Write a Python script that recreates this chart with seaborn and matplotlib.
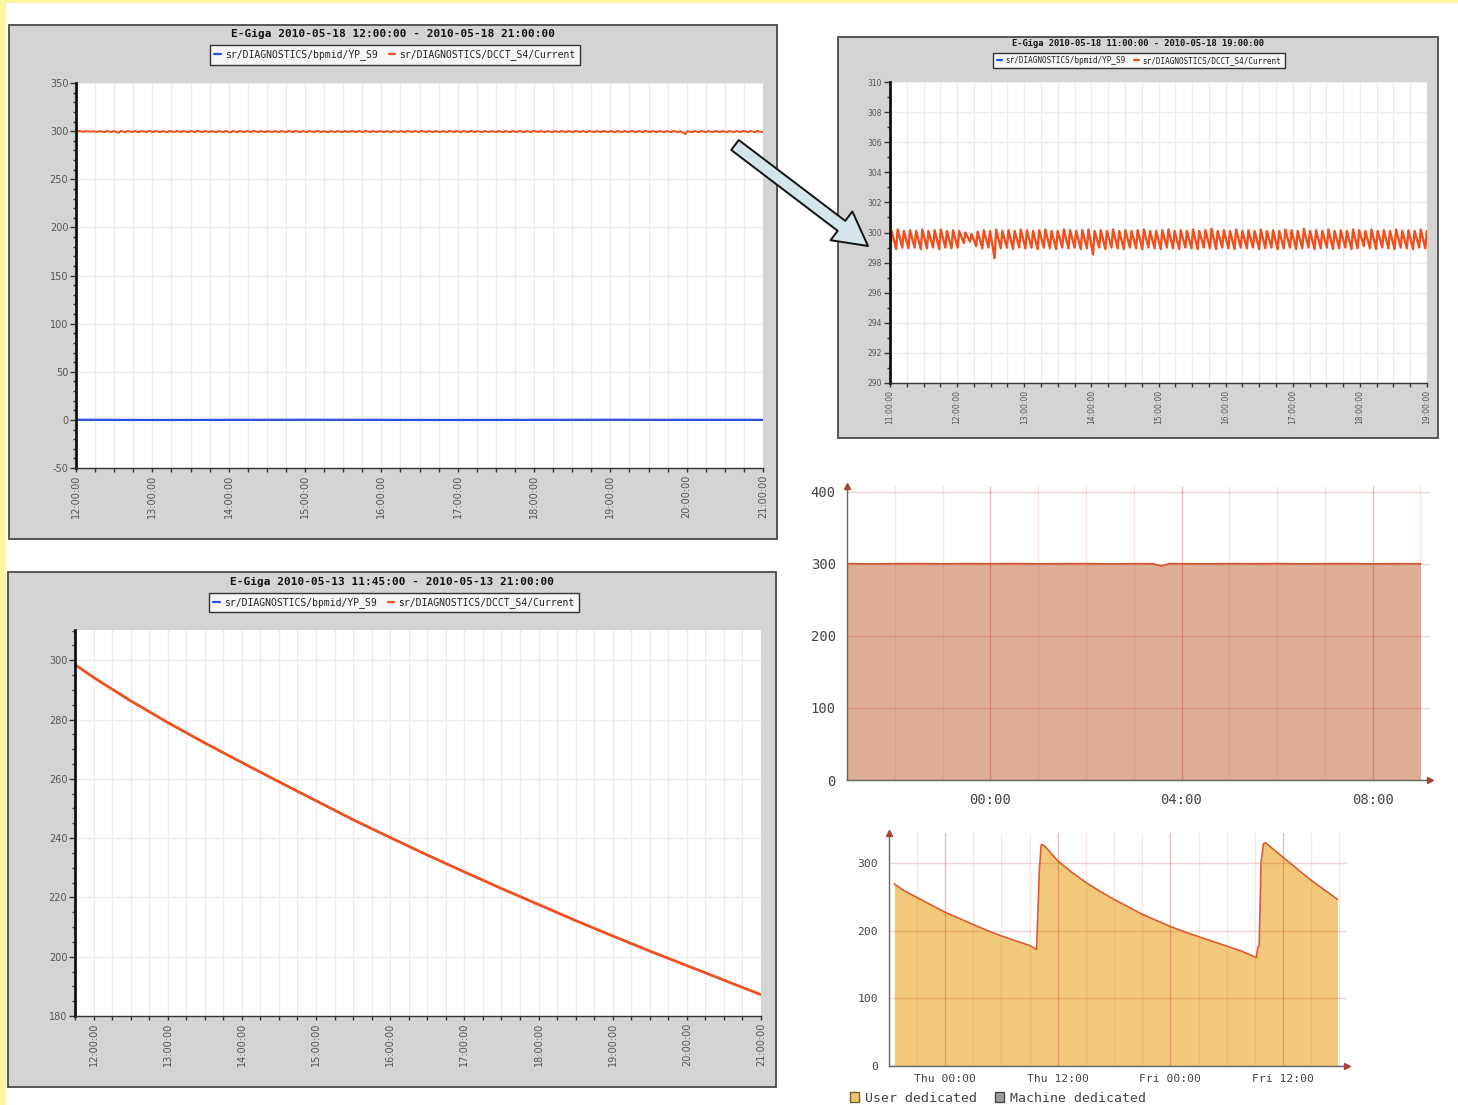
import numpy as np
import pandas as pd
import matplotlib
matplotlib.use("Agg")
import matplotlib.pyplot as plt
import matplotlib.dates as mdates
from matplotlib.ticker import MultipleLocator
from matplotlib.patches import Rectangle, FancyArrowPatch, Patch
from matplotlib.lines import Line2D
import seaborn as sns

W, H = 1458, 1105

# ---------------------------------------------------------------- data
# DCCT beam current on 2010-05-18, one trough/peak pair per top-up cycle from 11:00
CYCLE_MIN = 5.5
dcct_peaks = [
    300.10, 300.20, 300.10, 300.15, 300.10, 300.20, 300.10, 300.15, 300.20, 300.10,
    300.15, 300.10, 300.00, 299.90, 300.05, 300.15, 300.10, 300.20, 300.10, 300.15,
    300.10, 300.20, 300.15, 300.10, 300.15, 300.20, 300.10, 300.10, 300.20, 300.15,
    300.10, 300.15, 300.20, 300.10, 300.15, 300.10, 300.20, 300.10, 300.15, 300.10,
    300.15, 300.20, 300.10, 300.10, 300.15, 300.20, 300.10, 300.15, 300.10, 300.20,
    300.10, 300.15, 300.25, 300.10, 300.15, 300.10, 300.20, 300.10, 300.15, 300.10,
    300.20, 300.10, 300.15, 300.10, 300.20, 300.15, 300.10, 300.25, 300.10, 300.15,
    300.10, 300.20, 300.10, 300.15, 300.10, 300.20, 300.15, 300.10, 300.20, 300.10,
    300.15, 300.10, 300.20, 300.10, 300.15, 300.10, 300.20, 300.10, 300.15, 300.10,
    300.20, 300.10, 300.15, 300.10, 300.20, 300.10, 300.15, 300.10, 299.90, 300.10,
    300.15, 300.10, 300.20, 300.10, 300.15, 300.10, 300.20, 300.10, 300.15, 300.10,
]
dcct_troughs = [
    299.00, 298.90, 299.00, 298.95, 299.00, 298.90, 298.95, 299.00, 298.90, 299.00,
    298.95, 299.00, 299.30, 299.40, 299.10, 298.95, 299.00, 298.30, 298.95, 299.00,
    298.90, 299.00, 298.95, 299.00, 298.90, 299.00, 298.95, 298.90, 299.00, 298.95,
    299.00, 298.90, 298.95, 298.55, 299.00, 298.90, 299.00, 298.95, 298.90, 299.00,
    298.95, 298.90, 299.00, 298.95, 298.90, 299.00, 298.95, 298.90, 299.00, 298.95,
    298.90, 299.00, 298.95, 298.90, 299.00, 298.95, 298.90, 299.00, 298.95, 299.00,
    298.90, 298.95, 299.00, 298.90, 298.95, 299.00, 298.90, 298.95, 299.00, 298.90,
    298.95, 299.00, 298.90, 298.95, 299.00, 298.90, 298.95, 299.10, 298.95, 298.90,
    299.00, 298.95, 298.90, 299.00, 298.95, 298.90, 299.00, 298.95, 298.90, 299.00,
    298.95, 298.90, 299.00, 298.95, 298.90, 299.00, 298.95, 298.90, 296.90, 299.00,
    298.95, 298.90, 299.00, 298.95, 298.90, 299.00, 298.95, 298.90, 299.00, 298.95,
]

# vertical beam position YP_S9 on the same day
yp_hours = [11, 12, 13, 14, 15, 16, 17, 18, 19, 20, 21]
yp_values = [0.0, 0.1, -0.1, 0.0, 0.1, 0.0, -0.1, 0.0, 0.1, 0.0, 0.0]

# current decay on 2010-05-13
decay_times = ["11:45", "12:00", "12:30", "13:00", "13:30", "14:00", "14:30",
               "15:00", "15:30", "16:00", "16:30", "17:00", "17:30", "18:00",
               "18:30", "19:00", "19:30", "20:00", "20:30", "21:00"]
decay_values = [298.5, 294.2, 286.3, 279.0, 272.1, 265.5, 259.0,
                252.6, 246.2, 240.2, 234.3, 228.6, 223.0, 217.6,
                212.2, 207.0, 201.9, 197.0, 192.1, 187.2]

# overnight current, hours after 21:00
night_hours = [0.0, 0.5, 1.0, 1.5, 2.0, 2.5, 3.0, 3.5, 4.0, 4.5, 5.0, 5.5, 6.0,
               6.4, 6.58, 6.75, 7.0, 7.5, 8.0, 8.5, 9.0, 9.5, 10.0, 10.5, 11.0,
               11.5, 12.0]
night_values = [300.2, 299.8, 300.1, 300.3, 299.9, 300.2, 300.0, 300.3, 299.9,
                300.1, 300.2, 299.8, 300.1, 300.0, 297.0, 300.2, 300.1, 299.9,
                300.2, 300.0, 300.3, 299.9, 300.1, 300.2, 299.9, 300.1, 300.0]

# two-day user-dedicated current, hours from Thursday 00:00
week_hours = [-5.4, -5.2, -4.5, -3.0, -1.5, 0.0, 1.5, 3.0, 4.5, 6.0, 7.5, 9.0,
              9.75, 10.05, 10.25, 10.6, 12.0, 13.5, 15.0, 16.5, 18.0, 19.5, 21.0,
              22.5, 24.0, 25.5, 27.0, 28.5, 30.0, 31.5, 33.15, 33.3, 33.45, 33.65,
              33.9, 34.1, 36.0, 37.5, 39.0, 40.5, 41.8]
week_values = [269, 267, 260, 249, 238, 227, 218, 209, 200, 192, 185, 178,
               172, 290, 327, 325, 303, 286, 271, 258, 246, 235, 224,
               215, 206, 198, 191, 184, 177, 170, 160, 175, 178, 300,
               328, 330, 308, 291, 274, 259, 246]

SERIES_LABELS = ["sr/DIAGNOSTICS/bpmid/YP_S9", "sr/DIAGNOSTICS/DCCT_S4/Current"]

# ---------------------------------------------------------------- tables
day0 = pd.Timestamp("2010-05-18 11:00")
cycle_start = day0 + pd.to_timedelta(np.arange(len(dcct_peaks)) * CYCLE_MIN, unit="min")
peak_time = cycle_start + pd.to_timedelta(0.25 * CYCLE_MIN, unit="min")
dcct = pd.DataFrame({
    "time": np.ravel(np.column_stack([cycle_start.values, peak_time.values])),
    "current": np.ravel(np.column_stack([dcct_troughs, dcct_peaks])),
})
yp = pd.DataFrame({
    "time": pd.Timestamp("2010-05-18") + pd.to_timedelta(yp_hours, unit="h"),
    "pos": yp_values,
})
decay = pd.DataFrame({
    "time": pd.to_datetime(["2010-05-13 " + t for t in decay_times]),
    "current": decay_values,
})
night0 = pd.Timestamp("2010-05-17 21:00")
night = pd.DataFrame({
    "time": night0 + pd.to_timedelta(night_hours, unit="h"),
    "current": night_values,
})
thu0 = pd.Timestamp("2010-05-13 00:00")
week = pd.DataFrame({
    "time": thu0 + pd.to_timedelta(week_hours, unit="h"),
    "current": week_values,
})

# ---------------------------------------------------------------- style
sns.set_style("white")
plt.rcParams["font.family"] = ["DejaVu Sans"]
plt.rcParams["axes.unicode_minus"] = False

ORANGE = "#f0501e"
BLUE = "#2a4fe0"
MONO = "DejaVu Sans Mono"

fig = plt.figure(figsize=(W / 100, H / 100), dpi=100)
fig.patch.set_facecolor("white")


def fx(x):
    return x / W


def fy(y):
    return 1 - y / H


def frac_rect(x0, y0, x1, y1):
    return [x0 / W, 1 - y1 / H, (x1 - x0) / W, (y1 - y0) / H]


# page edge
fig.add_artist(Rectangle((0, 0), 6 / W, 1, transform=fig.transFigure,
                         fc="#fff59d", ec="none", zorder=-5))
fig.add_artist(Rectangle((0, fy(3)), 1, 3 / H, transform=fig.transFigure,
                         fc="#fff59d", ec="none", zorder=-5))


def archive_panel(box, area):
    """Grey archive-viewer frame with a white plotting area inside it."""
    x0, y0, x1, y1 = box
    fig.add_artist(Rectangle((fx(x0), fy(y1)), (x1 - x0) / W, (y1 - y0) / H,
                             transform=fig.transFigure, fc="#d4d4d4",
                             ec="#4a4a4a", lw=1.3, zorder=-2))
    ax = fig.add_axes(frac_rect(*area))
    ax.set_facecolor("white")
    return ax


def style_archive(ax, title, box, title_y, legend_xy, fs_title, fs_leg, fs_tick,
                  ylim, ymaj, ymin, xlim):
    ax.set_xlim(*xlim)
    ax.set_ylim(*ylim)
    ax.set_xlabel("")
    ax.set_ylabel("")
    ax.xaxis.set_major_locator(mdates.HourLocator())
    ax.xaxis.set_minor_locator(mdates.MinuteLocator(byminute=[15, 30, 45]))
    ax.xaxis.set_major_formatter(mdates.DateFormatter("%H:%M:%S"))
    ax.yaxis.set_major_locator(MultipleLocator(ymaj))
    ax.yaxis.set_minor_locator(MultipleLocator(ymin))
    ax.grid(True, which="both", axis="x", color="#ececec", lw=1, alpha=1)
    ax.grid(True, which="major", axis="y", color="#efefef", lw=1, alpha=1)
    ax.set_axisbelow(True)
    for s in ("top", "right"):
        ax.spines[s].set_visible(False)
    ax.spines["left"].set_color("#111111")
    ax.spines["left"].set_linewidth(2)
    ax.spines["bottom"].set_color("#333333")
    ax.spines["bottom"].set_linewidth(1)
    ax.tick_params(axis="x", which="both", rotation=90, labelsize=fs_tick,
                   labelcolor="#555555", length=3, width=1, color="#333333",
                   direction="out", pad=2, bottom=True)
    ax.tick_params(axis="y", which="major", labelsize=fs_tick, labelcolor="#555555",
                   length=4, width=1, color="#333333", direction="out", pad=1.5,
                   left=True)
    ax.tick_params(axis="y", which="minor", length=2, width=1, color="#333333",
                   direction="out", left=True)
    x0, y0, x1, y1 = box
    fig.text(fx((x0 + x1) / 2), fy(title_y), title, ha="center", va="center",
             family=MONO, weight="bold", fontsize=fs_title, color="#111111")
    handles = [Line2D([], [], color=BLUE, lw=1.6), Line2D([], [], color=ORANGE, lw=1.6)]
    leg = ax.legend(handles, SERIES_LABELS, loc="center",
                    bbox_to_anchor=(fx(legend_xy[0]), fy(legend_xy[1])),
                    bbox_transform=fig.transFigure, ncol=2, frameon=True,
                    fancybox=False, edgecolor="#333333", facecolor="#f6f6f6",
                    framealpha=1, prop={"family": MONO, "size": fs_leg},
                    handlelength=0.7, handletextpad=0.4, columnspacing=1.1,
                    borderpad=0.45)
    leg.get_frame().set_linewidth(1.0)
    for t in leg.get_texts():
        t.set_color("#222222")


# ---------------- top-left: 12:00 - 21:00
box = (9, 25, 777, 539)
ax1 = archive_panel(box, (76, 83, 763, 468))
sns.lineplot(data=yp, x="time", y="pos", color=BLUE, lw=1.6, ax=ax1, estimator=None)
sns.lineplot(data=dcct, x="time", y="current", color=ORANGE, lw=1.4, ax=ax1,
             estimator=None, sort=False)
style_archive(ax1, "E-Giga 2010-05-18 12:00:00 - 2010-05-18 21:00:00", box, 34,
              (395, 55), 8, 7, 7, (-50, 350), 50, 10,
              (pd.Timestamp("2010-05-18 12:00"), pd.Timestamp("2010-05-18 21:00")))

# ---------------- top-right: 11:00 - 19:00 detail
box = (838, 37, 1438, 438)
ax2 = archive_panel(box, (890, 82, 1427, 383))
sns.lineplot(data=yp, x="time", y="pos", color=BLUE, lw=1.4, ax=ax2, estimator=None)
sns.lineplot(data=dcct, x="time", y="current", color=ORANGE, lw=1.7, ax=ax2,
             estimator=None, sort=False)
style_archive(ax2, "E-Giga 2010-05-18 11:00:00 - 2010-05-18 19:00:00", box, 44,
              (1139, 60.5), 6.3, 5.5, 5.5, (290, 310), 2, 1,
              (pd.Timestamp("2010-05-18 11:00"), pd.Timestamp("2010-05-18 19:00")))

# ---------------- bottom-left: 2010-05-13 decay
box = (8, 572, 776, 1087)
ax3 = archive_panel(box, (75, 630, 761, 1016))
sns.lineplot(data=yp.assign(time=yp["time"] - pd.Timedelta(days=5)), x="time", y="pos",
             color=BLUE, lw=1.6, ax=ax3, estimator=None)
sns.lineplot(data=decay, x="time", y="current", color=ORANGE, lw=2.0, ax=ax3,
             estimator=None)
style_archive(ax3, "E-Giga 2010-05-13 11:45:00 - 2010-05-13 21:00:00", box, 582,
              (394, 602.5), 8, 7, 7, (180, 310.2), 20, 5,
              (pd.Timestamp("2010-05-13 11:45"), pd.Timestamp("2010-05-13 21:00")))

# ---------------- arrow from overview to detail
arrow = FancyArrowPatch((735 / 100, (H - 145) / 100), (868 / 100, (H - 246) / 100),
                        transform=fig.dpi_scale_trans,
                        arrowstyle="simple,head_length=2.4,head_width=2.6,tail_width=0.9",
                        mutation_scale=10, fc="#d4e6eb", ec="#111111", lw=1.4,
                        shrinkA=0, shrinkB=0, zorder=20)
fig.add_artist(arrow)


def arrow_axes(ax, axis_col="#666666", head_col="#a4443a"):
    for s in ("top", "right"):
        ax.spines[s].set_visible(False)
    for s in ("left", "bottom"):
        ax.spines[s].set_color(axis_col)
        ax.spines[s].set_linewidth(1.0)
    ax.plot(1, 0, ">", transform=ax.transAxes, clip_on=False, color=head_col, ms=4.5, zorder=5)
    ax.plot(0, 1, "^", transform=ax.transAxes, clip_on=False, color=head_col, ms=4.5, zorder=5)


def pink_grid(ax):
    ax.grid(True, which="minor", axis="x", color="#c84a4a", alpha=0.13, lw=1)
    ax.grid(True, which="major", axis="x", color="#b83a3a", alpha=0.33, lw=1)
    ax.grid(True, which="major", axis="y", color="#c04040", alpha=0.22, lw=1)
    ax.set_axisbelow("line")


# ---------------- middle-right: overnight area
ax4 = fig.add_axes(frac_rect(847, 486, 1430, 780))
ax4.set_facecolor("white")
ax4.fill_between(night["time"], 0, night["current"], color="#dfae97", lw=0, zorder=1)
sns.lineplot(data=night, x="time", y="current", color="#cf5a2e", lw=1.3, ax=ax4,
             estimator=None, zorder=3)
ax4.set_xlim(night0, night0 + pd.Timedelta(hours=12.2))
ax4.set_ylim(0, 408)
ax4.set_xlabel("")
ax4.set_ylabel("")
ax4.xaxis.set_major_locator(mdates.HourLocator(byhour=[0, 4, 8]))
ax4.xaxis.set_minor_locator(mdates.HourLocator(byhour=[h for h in range(24) if h % 4]))
ax4.xaxis.set_major_formatter(mdates.DateFormatter("%H:%M"))
ax4.yaxis.set_major_locator(MultipleLocator(100))
pink_grid(ax4)
arrow_axes(ax4)
ax4.tick_params(axis="both", which="both", length=0, labelsize=10, labelcolor="#444444")
ax4.tick_params(axis="x", pad=9)
ax4.tick_params(axis="y", pad=8)
for lab in ax4.get_xticklabels() + ax4.get_yticklabels():
    lab.set_family(MONO)

# ---------------- bottom-right: user dedicated two days
ax5 = fig.add_axes(frac_rect(889, 833, 1347, 1066))
ax5.set_facecolor("white")
ax5.fill_between(week["time"], 0, week["current"], color="#f2c97a", lw=0, zorder=1)
sns.lineplot(data=week, x="time", y="current", color="#dc5a34", lw=1.2, ax=ax5,
             estimator=None, zorder=3)
ax5.set_xlim(thu0 - pd.Timedelta(hours=5.96), thu0 + pd.Timedelta(hours=42.8))
ax5.set_ylim(0, 344)
ax5.set_xlabel("")
ax5.set_ylabel("")
ax5.xaxis.set_major_locator(mdates.HourLocator(byhour=[0, 12]))
ax5.xaxis.set_minor_locator(mdates.HourLocator(byhour=[3, 6, 9, 15, 18, 21]))
ax5.xaxis.set_major_formatter(mdates.DateFormatter("%a %H:%M"))
ax5.yaxis.set_major_locator(MultipleLocator(100))
pink_grid(ax5)
arrow_axes(ax5)
ax5.tick_params(axis="both", which="both", length=0, labelsize=8.2, labelcolor="#444444")
ax5.tick_params(axis="x", pad=6)
ax5.tick_params(axis="y", pad=8)
for lab in ax5.get_xticklabels() + ax5.get_yticklabels():
    lab.set_family(MONO)

leg_handles = [Patch(fc="#f2c46d", ec="#7a6030", lw=1.0),
               Patch(fc="#9a9a9a", ec="#444444", lw=1.0)]
leg5 = ax5.legend(leg_handles, ["User dedicated", "Machine dedicated"],
                  loc="center left", bbox_to_anchor=(fx(843), fy(1098)),
                  bbox_transform=fig.transFigure, ncol=2, frameon=False,
                  prop={"family": MONO, "size": 9.5}, handlelength=0.75,
                  handleheight=0.75, handletextpad=0.45, columnspacing=1.3,
                  borderpad=0)
for t in leg5.get_texts():
    t.set_color("#444444")

fig.savefig("out.png", dpi=100, facecolor="white")
